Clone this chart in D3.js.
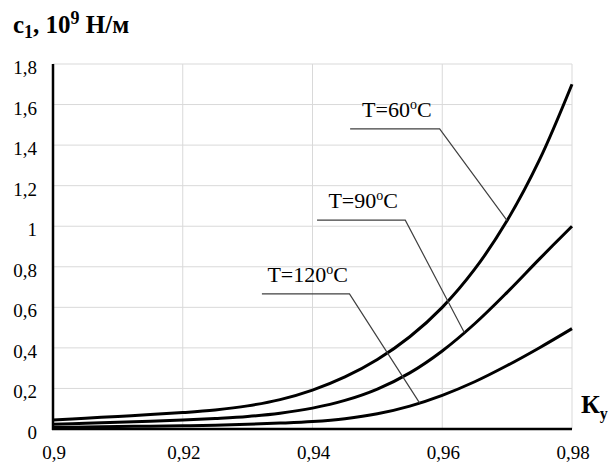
<!DOCTYPE html>
<html>
<head>
<meta charset="utf-8">
<script src="https://d3js.org/d3.v7.min.js"></script>
<style>
  body { margin: 0; background: white; }
  svg { display: block; font-family: 'Liberation Serif', 'Times New Roman', serif; }
  .grid line { stroke: #d9d9d9; stroke-width: 1; }
  .tick-label { font-size: 19px; fill: #000; }
</style>
</head>
<body>
<div class="chart"></div>
<script>
  // data
  const kValues = [0.9, 0.905, 0.91, 0.915, 0.92, 0.925, 0.93, 0.935, 0.94, 0.945, 0.95, 0.955, 0.96, 0.965, 0.97, 0.975, 0.98];
  const t60 = [0.044, 0.053, 0.062, 0.071, 0.081, 0.094, 0.114, 0.145, 0.192, 0.257, 0.343, 0.455, 0.600, 0.788, 1.028, 1.328, 1.700];
  const t90 = [0.023, 0.028, 0.033, 0.038, 0.044, 0.052, 0.062, 0.078, 0.103, 0.141, 0.197, 0.277, 0.385, 0.519, 0.674, 0.839, 1.000];
  const t120 = [0.008, 0.010, 0.012, 0.014, 0.016, 0.019, 0.023, 0.029, 0.037, 0.051, 0.075, 0.113, 0.166, 0.233, 0.313, 0.401, 0.495];
  const xTicks = [0.9, 0.92, 0.94, 0.96, 0.98];
  const yTicks = [0, 0.2, 0.4, 0.6, 0.8, 1, 1.2, 1.4, 1.6, 1.8];
  const seriesNames = ["60", "90", "120"];
  // callouts: underline start/end x, underline y, x where leader meets curve
  const calloutX0 = [0.9458, 0.9407, 0.9322];
  const calloutX1 = [0.9596, 0.9543, 0.9457];
  const calloutY = [1.48, 1.03, 0.666];
  const calloutHit = [0.97, 0.9634, 0.9565];

  const series = [t60, t90, t120];

  const w = 612, h = 466;
  const mLeft = 53, mRight = 572, mTop = 64, mBottom = 429;

  const x = d3.scaleLinear().domain([0.9, 0.98]).range([mLeft, mRight]);
  const y = d3.scaleLinear().domain([0, 1.8]).range([mBottom, mTop]);
  const fmt = d => String(d).replace(".", ",");

  const svg = d3.select(".chart").append("svg")
    .attr("width", w)
    .attr("height", h);

  // grid
  const grid = svg.append("g").attr("class", "grid");
  grid.selectAll(".gx").data(xTicks.slice(1)).enter().append("line")
    .attr("x1", d => x(d)).attr("x2", d => x(d))
    .attr("y1", y(0)).attr("y2", y(1.8));
  grid.selectAll(".gy").data(yTicks.slice(1)).enter().append("line")
    .attr("x1", x(0.9)).attr("x2", x(0.98))
    .attr("y1", d => y(d)).attr("y2", d => y(d));

  // tick labels
  svg.selectAll(".yl").data(yTicks).enter().append("text")
    .attr("class", "tick-label")
    .attr("x", mLeft - 16)
    .attr("y", d => y(d) + 10)
    .attr("text-anchor", "end")
    .text(fmt);
  svg.selectAll(".xl").data(xTicks).enter().append("text")
    .attr("class", "tick-label")
    .attr("x", d => x(d) + 1)
    .attr("y", mBottom + 30)
    .attr("text-anchor", "middle")
    .text(fmt);

  // curves
  const line = d3.line()
    .x((d, i) => x(kValues[i]))
    .y(d => y(d))
    .curve(d3.curveCatmullRom.alpha(0.5));

  svg.selectAll(".curve").data(series).enter().append("path")
    .attr("d", line)
    .attr("fill", "none")
    .attr("stroke", "#000")
    .attr("stroke-width", 3);

  // axes
  svg.append("line")
    .attr("x1", x(0.9)).attr("x2", x(0.9))
    .attr("y1", y(0) + 1).attr("y2", y(1.8))
    .attr("stroke", "#000").attr("stroke-width", 2.5);
  svg.append("line")
    .attr("x1", x(0.9) - 1).attr("x2", x(0.98))
    .attr("y1", y(0)).attr("y2", y(0))
    .attr("stroke", "#000").attr("stroke-width", 2.5);

  // callouts
  const valueAt = (s, k) => {
    const i = d3.bisectLeft(kValues, k);
    if (i <= 0) return s[0];
    const t = (k - kValues[i - 1]) / (kValues[i] - kValues[i - 1]);
    return s[i - 1] + t * (s[i] - s[i - 1]);
  };

  seriesNames.forEach((name, i) => {
    const g = svg.append("g");
    g.append("polyline")
      .attr("points", [
        [x(calloutX0[i]), y(calloutY[i])],
        [x(calloutX1[i]), y(calloutY[i])],
        [x(calloutHit[i]), y(valueAt(series[i], calloutHit[i]))]
      ].map(p => p.join(",")).join(" "))
      .attr("fill", "none")
      .attr("stroke", "#404040")
      .attr("stroke-width", 1.2);
    const t = g.append("text")
      .attr("x", (x(calloutX0[i]) + x(calloutX1[i])) / 2 + 2)
      .attr("y", y(calloutY[i]) - 12)
      .attr("text-anchor", "middle")
      .attr("font-size", 22)
      .attr("fill", "#000");
    t.append("tspan").text("T=" + name);
    t.append("tspan").attr("font-size", 14).attr("dy", -8).text("o");
    t.append("tspan").attr("dy", 8).text("C");
  });

  // axis titles
  const yt = svg.append("text")
    .attr("x", 13).attr("y", 33)
    .attr("font-size", 25).attr("font-weight", "bold");
  yt.append("tspan").text("c");
  yt.append("tspan").attr("font-size", 18).attr("dy", 5).text("1");
  yt.append("tspan").attr("dy", -5).text(", 10");
  yt.append("tspan").attr("font-size", 18).attr("dy", -9).text("9");
  yt.append("tspan").attr("dy", 9).text(" Н/м");

  const xt = svg.append("text")
    .attr("x", 581).attr("y", 413)
    .attr("font-size", 26).attr("font-weight", "bold");
  xt.append("tspan").text("К");
  xt.append("tspan").attr("font-size", 16).attr("dy", 6).text("у");
</script>
</body>
</html>
